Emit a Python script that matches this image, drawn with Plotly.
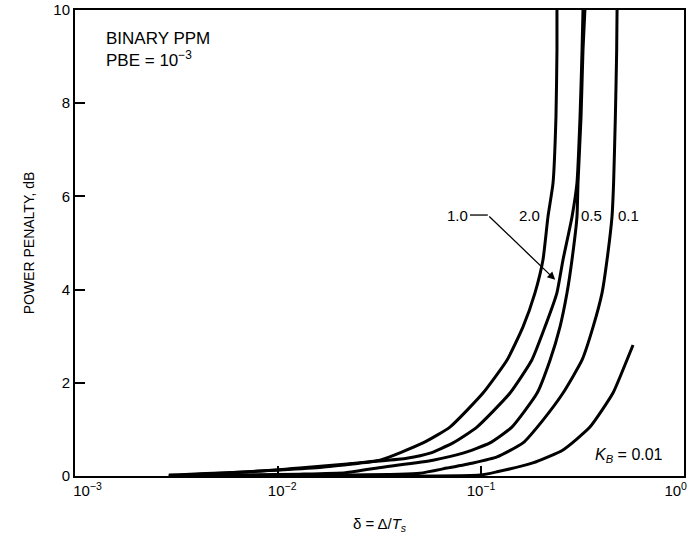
import math
import plotly.graph_objects as go

# K_B = 2.0
x_k20 = [0.0029, 0.0073, 0.0128, 0.0219, 0.0318, 0.0518, 0.0703, 0.1023, 0.1344, 0.161, 0.1845, 0.202, 0.2137, 0.2264, 0.234, 0.2367, 0.2367]
y_k20 = [0.02, 0.09, 0.17, 0.26, 0.34, 0.71, 1.05, 1.78, 2.49, 3.20, 3.93, 4.64, 5.56, 6.29, 7.70, 9.14, 10.0]
# K_B = 1.0
x_k10 = [0.0029, 0.0102, 0.0165, 0.0285, 0.0431, 0.0561, 0.0728, 0.0955, 0.139, 0.178, 0.2066, 0.2366, 0.2535, 0.2807, 0.297, 0.3075, 0.3146, 0.318]
y_k10 = [0.0, 0.13, 0.19, 0.30, 0.38, 0.49, 0.71, 1.05, 1.78, 2.49, 3.20, 3.93, 4.64, 5.56, 6.29, 7.70, 9.14, 10.0]
# K_B = 0.5
x_k05 = [0.0029, 0.0128, 0.0215, 0.0328, 0.058, 0.0815, 0.1107, 0.142, 0.189, 0.219, 0.245, 0.2653, 0.2807, 0.297, 0.3005, 0.311, 0.318, 0.325]
y_k05 = [0.0, 0.04, 0.07, 0.19, 0.34, 0.49, 0.71, 1.05, 1.78, 2.49, 3.20, 3.93, 4.64, 5.56, 6.29, 7.70, 9.14, 10.0]
# K_B = 0.1
x_k01 = [0.0029, 0.0227, 0.050, 0.068, 0.0914, 0.120, 0.161, 0.202, 0.2535, 0.3147, 0.3566, 0.3948, 0.4177, 0.4418, 0.450, 0.459, 0.466, 0.468]
y_k01 = [0.0, 0.02, 0.06, 0.17, 0.28, 0.41, 0.71, 1.20, 1.78, 2.49, 3.20, 3.93, 4.64, 5.56, 6.29, 7.70, 9.14, 10.0]
# K_B = 0.01
x_k001 = [0.0029, 0.0989, 0.12, 0.180, 0.2535, 0.344, 0.4467, 0.5237, 0.561]
y_k001 = [0.0, 0.02, 0.09, 0.28, 0.56, 1.05, 1.78, 2.49, 2.81]

series = [x_k20, x_k10, x_k05, x_k01, x_k001]
series_y = [y_k20, y_k10, y_k05, y_k01, y_k001]
names = ["2.0", "1.0", "0.5", "0.1", "0.01"]

FS = "\u2007"
x_tickvals = [0.001, 0.01, 0.1, 1]
x_ticktext = [FS * 3 + "10<sup>−3</sup>", FS + "10<sup>−2</sup>", "10<sup>−1</sup>", "10<sup>0</sup>" + FS * 2]
y_tickvals = [0, 2, 4, 6, 8, 10]

# leader line for the "1.0" label
lead_x = [0.0883, 0.108]
lead_y = [5.6, 5.6]
arrow_tip = (0.232, 4.21)

FONT = "Liberation Sans, Arial, sans-serif"

fig = go.Figure()
for xs, ys, n in zip(series, series_y, names):
    fig.add_trace(go.Scatter(x=xs, y=ys, mode="lines", name=n,
                             line=dict(color="black", width=3, shape="spline", smoothing=0.5),
                             hoverinfo="skip", showlegend=False))
fig.add_trace(go.Scatter(x=lead_x, y=lead_y, mode="lines",
                         line=dict(color="black", width=1.3),
                         hoverinfo="skip", showlegend=False))

fig.add_annotation(x=math.log10(arrow_tip[0]), y=arrow_tip[1], xref="x", yref="y",
                   ax=math.log10(lead_x[1]), ay=lead_y[1], axref="x", ayref="y",
                   text="", showarrow=True, arrowhead=2, arrowsize=1.2,
                   arrowwidth=1.3, arrowcolor="black", standoff=0)

lab_font = dict(family=FONT, size=15, color="black")
fig.add_annotation(x=-1.118, y=5.6, text="1.0", showarrow=False, font=lab_font)
fig.add_annotation(x=-0.759, y=5.6, text="2.0", showarrow=False, font=lab_font)
fig.add_annotation(x=-0.458, y=5.6, text="0.5", showarrow=False, font=lab_font)
fig.add_annotation(x=-0.271, y=5.6, text="0.1", showarrow=False, font=lab_font)
fig.add_annotation(x=-0.449, y=0.45, text="<i>K</i><sub><i>B</i></sub> = 0.01",
                   showarrow=False, font=dict(family=FONT, size=16, color="black"), xanchor="left")
fig.add_annotation(x=-2.857, y=9.16, text="BINARY PPM<br>PBE = 10<sup>−3</sup>",
                   showarrow=False, font=dict(family=FONT, size=17, color="black"),
                   xanchor="left", align="left")

fig.update_layout(
    width=698, height=548,
    margin=dict(l=75, r=14, t=10, b=72),
    paper_bgcolor="white", plot_bgcolor="white",
    font=dict(family=FONT, size=14, color="black"),
)
fig.update_xaxes(type="log", range=[-3, 0], tickvals=x_tickvals, ticktext=x_ticktext,
                 ticks="inside", ticklen=10, tickwidth=1.5, tickcolor="black",
                 showline=True, linecolor="black", linewidth=2, mirror=True,
                 showgrid=False, zeroline=False, ticklabeloverflow="allow", automargin=False,
                 tickfont=dict(family=FONT, size=15),
                 title=dict(text="δ = Δ/<i>T</i><sub><i>s</i></sub>", font=dict(family=FONT, size=15), standoff=20))
fig.update_yaxes(range=[0, 10], tickvals=y_tickvals,
                 ticks="inside", ticklen=10, tickwidth=1.5, tickcolor="black",
                 showline=True, linecolor="black", linewidth=2, mirror=True,
                 showgrid=False, zeroline=False, automargin=False,
                 tickfont=dict(family=FONT, size=15),
                 title=dict(text="POWER PENALTY, dB", font=dict(family=FONT, size=14), standoff=15))

fig.write_html("out.html", config={"displayModeBar": False},
               post_script="document.body.style.margin='0';")
